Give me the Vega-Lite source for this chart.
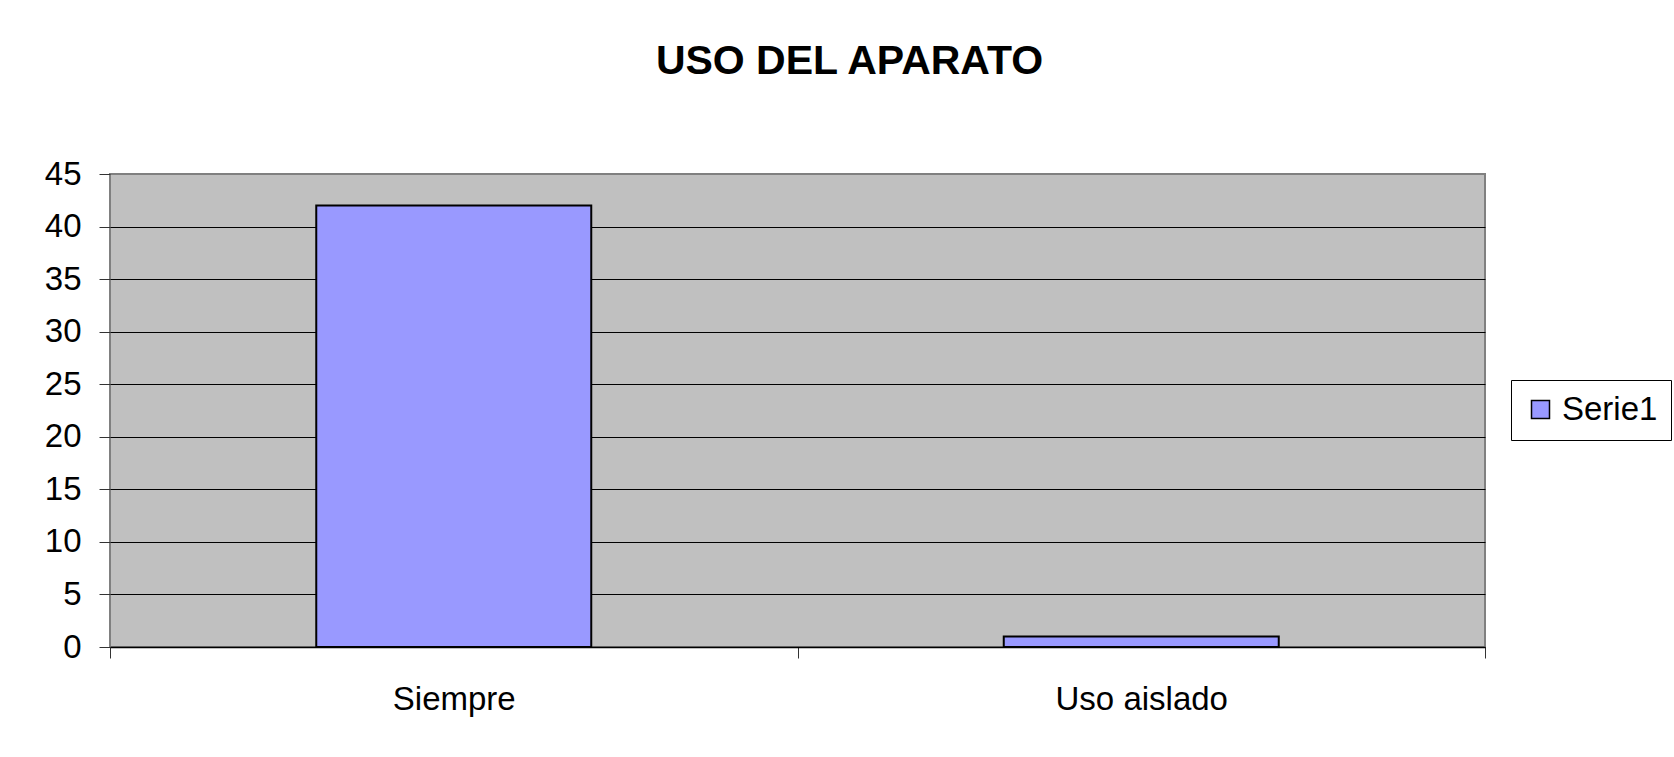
{
  "$schema": "https://vega.github.io/schema/vega-lite/v6.json",
  "autosize": "none",
  "padding": {"left": 110, "top": 174, "right": 189, "bottom": 110},
  "width": 1375,
  "height": 473,
  "background": "white",
  "title": {
    "text": "USO DEL APARATO",
    "font": "Liberation Sans",
    "fontSize": 41,
    "fontWeight": "bold",
    "color": "black",
    "anchor": "middle",
    "dx": 52,
    "dy": -71
  },
  "data": {
    "values": [
      {"categoria": "Siempre", "valor": 42, "serie": "Serie1"},
      {"categoria": "Uso aislado", "valor": 1, "serie": "Serie1"}
    ]
  },
  "mark": {"type": "bar", "stroke": "black", "strokeWidth": 2, "width": {"band": 0.4}},
  "encoding": {
    "x": {
      "field": "categoria",
      "type": "nominal",
      "sort": null,
      "scale": {"paddingInner": 0, "paddingOuter": 0},
      "axis": {
        "title": null,
        "labelAngle": 0,
        "tickBand": "extent",
        "tickSize": 11,
        "tickColor": "#333333",
        "labelPadding": 25,
        "domainColor": "black",
        "domainWidth": 1.5,
        "grid": false
      }
    },
    "y": {
      "field": "valor",
      "type": "quantitative",
      "scale": {"domain": [0, 45], "nice": false},
      "axis": {
        "title": null,
        "values": [0, 5, 10, 15, 20, 25, 30, 35, 40, 45],
        "tickSize": 11,
        "tickColor": "#333333",
        "labelPadding": 18,
        "domain": false,
        "grid": true,
        "gridColor": {"condition": {"test": "datum.value === 45", "value": "#808080"}, "value": "black"},
        "gridWidth": 1
      }
    },
    "color": {
      "field": "serie",
      "type": "nominal",
      "scale": {"range": ["#9999FF"]},
      "legend": {
        "title": null,
        "orient": "none",
        "legendX": 1401,
        "legendY": 206,
        "strokeColor": "black",
        "padding": 13,
        "symbolType": "square",
        "symbolSize": 324,
        "symbolStrokeColor": "black",
        "symbolStrokeWidth": 1.5,
        "symbolOpacity": 1,
        "labelFontSize": 33,
        "labelFont": "Liberation Sans",
        "labelColor": "black",
        "labelOffset": 5
      }
    }
  },
  "config": {
    "font": "Liberation Sans",
    "view": {"fill": "#C0C0C0", "stroke": "#808080", "strokeWidth": 2},
    "axis": {
      "labelFont": "Liberation Sans",
      "labelFontSize": 33,
      "labelColor": "black"
    }
  }
}
